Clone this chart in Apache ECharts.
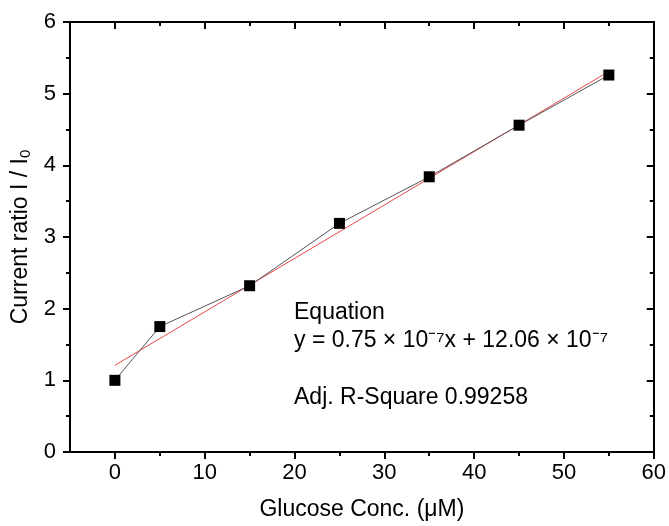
<!DOCTYPE html>
<html lang="en">
<head>
<meta charset="UTF-8">
<title>Glucose calibration</title>
<script src="https://cdn.jsdelivr.net/npm/echarts@6/dist/echarts.min.js"></script>
</head>
<body style="margin:0">
<div id="main" style="width:669px;height:526px;"></div>
<script>
// measured points
var conc = [0, 5, 15, 25, 35, 45, 55];
var ratio = [1.0, 1.75, 2.32, 3.19, 3.84, 4.56, 5.26];
// linear fit end points
var fitX = [0, 55];
var fitY = [1.21, 5.31];
var majorX = [0, 10, 20, 30, 40, 50, 60];
var minorX = [5, 15, 25, 35, 45, 55];

var font = 'Liberation Sans, Arial, sans-serif';
var chart = echarts.init(document.getElementById('main'));
var ink = { color: '#000', width: 2 };

function xAx(pos, ticks, len, inside, labels) {
	return {
		type: 'value', position: pos, min: -5, max: 60,
		axisLine: { show: true, onZero: false, lineStyle: ink },
		axisTick: { show: true, customValues: ticks, length: len, inside: inside, lineStyle: ink },
		axisLabel: labels ? { show: true, customValues: ticks, color: '#000', fontSize: 22, fontFamily: font, margin: 10 } : { show: false },
		splitLine: { show: false }
	};
}

var xAxes = [
	xAx('bottom', majorX, 7, false, true),
	xAx('bottom', minorX, 4, false, false),
	xAx('top', majorX, 7, true, false),
	xAx('top', minorX, 4, true, false)
];
xAxes[0].name = 'Glucose Conc. (μM)';
xAxes[0].nameLocation = 'middle';
xAxes[0].nameGap = 46;
xAxes[0].nameTextStyle = { color: '#000', fontSize: 23, fontFamily: font };

function yAx(pos, inside, labels) {
	return {
		type: 'value', min: 0, max: 6, interval: 1, position: pos,
		axisLine: { show: true, onZero: false, lineStyle: ink },
		axisTick: { show: true, inside: inside, length: 7, lineStyle: ink },
		minorTick: { show: true, splitNumber: 2, length: 4, lineStyle: ink },
		axisLabel: labels ? { color: '#000', fontSize: 22, fontFamily: font, margin: 14 } : { show: false },
		splitLine: { show: false }
	};
}

var yAxes = [yAx('left', false, true), yAx('right', true, false)];
yAxes[0].name = '{a|Current ratio I / I}{s|0}';
yAxes[0].nameLocation = 'middle';
yAxes[0].nameGap = 32;
yAxes[0].nameTextStyle = {
	color: '#000', fontFamily: font,
	rich: {
		a: { fontSize: 23, fontFamily: font, color: '#000' },
		s: { fontSize: 15, fontFamily: font, color: '#000', padding: [10, 0, 0, 0] }
	}
};

var option = {
	animation: false,
	grid: { left: 70, right: 12, top: 22, bottom: 72 },
	xAxis: xAxes,
	yAxis: yAxes,
	series: [{
		type: 'line',
		data: fitX.map(function (x, i) { return [x, fitY[i]]; }),
		showSymbol: false,
		lineStyle: { color: '#e8474a', width: 1 },
		z: 2
	}, {
		type: 'line',
		data: conc.map(function (x, i) { return [x, ratio[i]]; }),
		symbol: 'rect', symbolSize: 11,
		itemStyle: { color: '#000' },
		lineStyle: { color: '#555', width: 1 },
		z: 3
	}],
	graphic: [{
		type: 'text', left: 294, top: 298,
		style: {
			text: 'Equation\ny = 0.75 × 10⁻⁷x + 12.06 × 10⁻⁷\n\nAdj. R-Square 0.99258',
			font: '23px ' + font, fill: '#000', lineHeight: 28.5
		}
	}]
};
chart.setOption(option);
</script>
</body>
</html>
